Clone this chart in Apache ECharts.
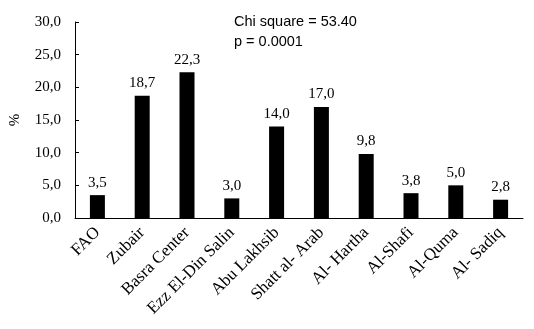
<!DOCTYPE html>
<html>
<head>
<meta charset="utf-8">
<script src="https://cdn.jsdelivr.net/npm/echarts@6/dist/echarts.min.js"></script>
<style>
  html, body { margin: 0; padding: 0; background: #fff; }
  #chart { width: 534px; height: 329px; }
</style>
</head>
<body>
<div id="chart"></div>
<script>
// Share (%) per district
const districts = ['FAO', 'Zubair', 'Basra Center', 'Ezz El-Din Salin', 'Abu Lakhsib',
  'Shatt al- Arab', 'Al- Hartha', 'Al-Shafi', 'Al-Quma', 'Al- Sadiq'];
const percentages = [3.5, 18.7, 22.3, 3.0, 14.0, 17.0, 9.8, 3.8, 5.0, 2.8];
const statLines = ['Chi square = 53.40', 'p = 0.0001'];

const fmt = v => v.toFixed(1).replace('.', ',');
const serif = '"Liberation Serif", "Times New Roman", serif';

const chart = echarts.init(document.getElementById('chart'));
chart.setOption({
  animation: false,
  backgroundColor: '#fff',
  grid: { left: 74, top: 22, width: 449, height: 196 },
  title: {
    text: statLines.join('\n'),
    left: 229, top: 7,
    textStyle: { fontFamily: '"Liberation Sans", Arial, sans-serif', fontSize: 14.5,
      fontWeight: 'normal', color: '#000', lineHeight: 20 }
  },
  xAxis: {
    type: 'category',
    data: districts,
    axisLine: { lineStyle: { color: '#000', width: 1 } },
    axisTick: { show: false },
    axisLabel: { rotate: 45, interval: 0, margin: 12, color: '#000',
      fontFamily: serif, fontSize: 17 }
  },
  yAxis: {
    type: 'value',
    min: 0, max: 30, interval: 5,
    name: '%',
    nameLocation: 'middle',
    nameGap: 52,
    nameRotate: 90,
    nameTextStyle: { fontFamily: serif, fontSize: 15, color: '#000' },
    splitLine: { show: false },
    axisLine: { show: true, lineStyle: { color: '#000', width: 1 } },
    axisTick: { show: true, inside: true, length: 4, lineStyle: { color: '#000' } },
    axisLabel: { formatter: fmt, color: '#000', fontFamily: serif, fontSize: 15, margin: 14 }
  },
  series: [{
    type: 'bar',
    data: percentages,
    barWidth: 15,
    itemStyle: { color: '#000' },
    label: { show: true, position: 'top', distance: 5, formatter: p => fmt(p.value),
      color: '#000', fontFamily: serif, fontSize: 15 }
  }]
});
</script>
</body>
</html>
